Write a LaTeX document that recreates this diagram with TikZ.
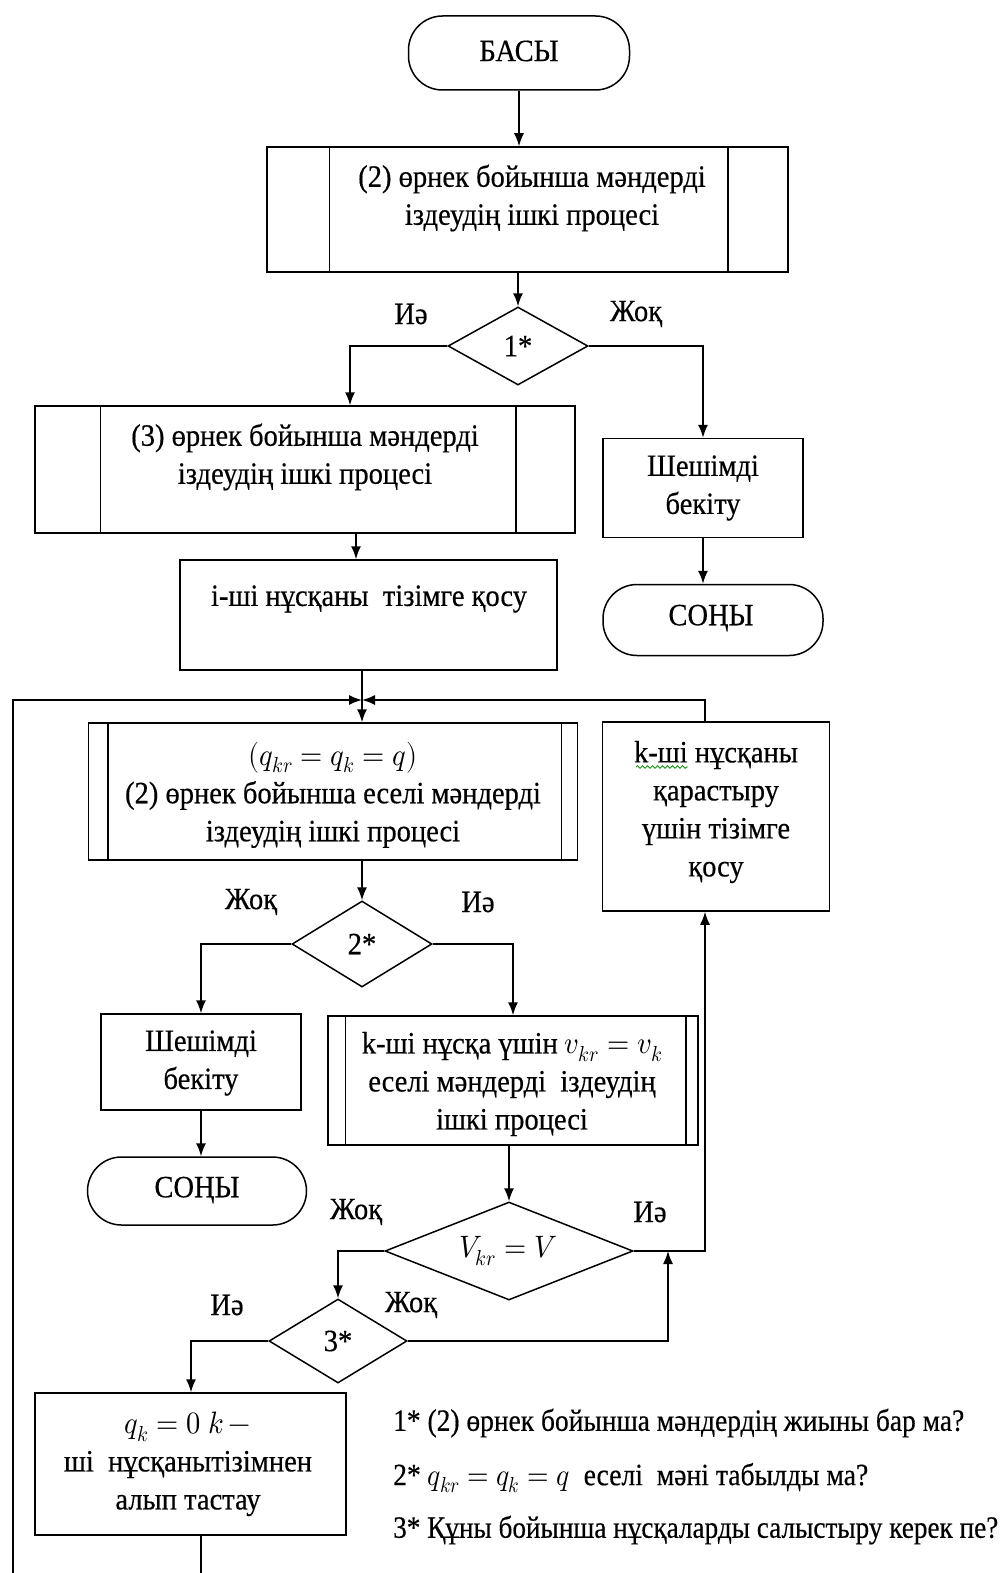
\documentclass[tikz,border=0pt]{standalone}
\usepackage{unicode-math}
\usepackage{graphicx}
\setmainfont{Liberation Serif}[FakeBold=0.45]
\usetikzlibrary{arrows.meta,shapes.geometric,decorations.pathmorphing}

\tikzset{
  every node/.style={font=\fontsize{31}{38}\selectfont},
  blk/.style={draw, line width=1.5pt, rectangle, inner sep=0pt},
  term/.style={blk, rounded corners=34pt},
  dec/.style={draw, line width=1.5pt, diamond, inner sep=0pt},
  txt/.style={align=center, inner sep=0pt},
  lbl/.style={inner sep=0pt},
  ln/.style={line width=1.5pt},
  arr/.style={line width=1.5pt, -{Latex[length=13pt,width=10pt]}},
}
% horizontally condensed lettering
\newcommand{\cnd}[1]{\scalebox{0.92}[1]{#1}}

\begin{document}
\begin{tikzpicture}[x=1pt,y=-1pt]
\useasboundingbox (0,0) rectangle (1003,1573);

% helper x positions of vertical connectors
\coordinate (ya) at (350,0);
\coordinate (c2) at (356,0);
\coordinate (m)  at (362,700);
\coordinate (kx) at (705,0);
\coordinate (c3) at (668,0);
\coordinate (c6) at (191,0);
\coordinate (bot) at (201,1573);
\coordinate (lb) at (13,1573);

% ---------- boxes ----------
\node[term, minimum width=221pt, minimum height=74pt] (start) at (519,53) {};
\node[blk, minimum width=521pt, minimum height=125pt] (sub1) at (527.5,209.5) {};
\node[dec, minimum width=140pt, minimum height=78pt] (dia1) at (518,346) {};
\node[blk, minimum width=540pt, minimum height=127pt] (sub2) at (305,469.5) {};
\node[blk, minimum width=200pt, minimum height=99pt] (dec1) at (703,488) {};
\node[term, minimum width=220pt, minimum height=71pt] (end1) at (713,620) {};
\node[blk, minimum width=377pt, minimum height=110pt] (box3) at (368.5,615) {};
\node[blk, minimum width=489pt, minimum height=137pt] (sub4) at (333,791.5) {};
\node[blk, minimum width=227pt, minimum height=189pt] (kbox) at (716,816.5) {};
\node[dec, minimum width=140pt, minimum height=86pt] (dia2) at (362,944) {};
\node[blk, minimum width=200pt, minimum height=96pt] (dec2) at (201,1062) {};
\node[term, minimum width=219pt, minimum height=68pt] (end2) at (197,1191) {};
\node[blk, minimum width=370pt, minimum height=129pt] (sub5) at (513,1080.5) {};
\node[dec, minimum width=248pt, minimum height=98pt] (diaV) at (509,1251) {};
\node[dec, minimum width=138pt, minimum height=84pt] (dia3) at (338,1341) {};
\node[blk, minimum width=311pt, minimum height=142pt] (box6) at (190.5,1464) {};

% inner side bars of the predefined-process blocks
\foreach \n/\a/\b in {sub1/63/61, sub2/66/60, sub4/20/17, sub5/18/13}{
  \draw[ln] ([xshift=\a pt]\n.north west) -- ([xshift=\a pt]\n.south west);
  \draw[ln] ([xshift=-\b pt]\n.north east) -- ([xshift=-\b pt]\n.south east);
}

% ---------- texts ----------
\node[txt] (tstart) at (519,51) {\cnd{БАСЫ}};
\node[txt] (t1) at (532,198) {\cnd{(2) өрнек бойынша мәндерді}\\\cnd{іздеудің ішкі процесі}};
\node[txt] (td1) at (dia1) {\cnd{1*}};
\node[txt] (t2) at (305,457) {\cnd{(3) өрнек бойынша мәндерді}\\\cnd{іздеудің ішкі процесі}};
\node[txt] (tdec1) at (703,488) {\cnd{Шешімді}\\\cnd{бекіту}};
\node[txt] (tend1) at (711,618) {\cnd{СОҢЫ}};
\node[txt] (t3) at (369,599) {\cnd{і-ші нұсқаны\ \ тізімге қосу}};
\node[txt] (t4) at (333,795) {\cnd{$(q_{kr} = q_k = q)$}\\\cnd{(2) өрнек бойынша еселі мәндерді}\\\cnd{іздеудің ішкі процесі}};
\node[txt] (tk) at (716,812) {\cnd{k-ші нұсқаны}\\\cnd{қарастыру}\\\cnd{үшін тізімге}\\\cnd{қосу}};
\node[txt] (td2) at (dia2) {\cnd{2*}};
\node[txt] (tdec2) at (201,1063) {\cnd{Шешімді}\\\cnd{бекіту}};
\node[txt] (tend2) at (197,1190) {\cnd{СОҢЫ}};
\node[txt] (t5) at (512,1084) {\cnd{k-ші нұсқа үшін $v_{kr} = v_k$}\\\cnd{еселі мәндерді\ \ іздеудің}\\\cnd{ішкі процесі}};
\node[txt] (tdV) at (508,1251) {\cnd{$V_{kr} = V$}};
\node[txt] (td3) at (dia3) {\cnd{3*}};
\node[txt] (t6) at (188,1464) {\cnd{$q_k = 0\;k\,-$}\\\cnd{ші\ \ нұсқанытізімнен}\\\cnd{алып тастау}};

% spell-check squiggle under "k-ші"
\draw[green!55!black, line width=0.8pt, decorate,
      decoration={snake, amplitude=1.3pt, segment length=5pt}]
  (636,767) -- (688,767);

% ---------- branch labels ----------
\node[lbl] (l1y) at (411,314) {\cnd{Иә}};
\node[lbl] (l1n) at (636,314) {\cnd{Жоқ}};
\node[lbl] (l2n) at (251,902) {\cnd{Жоқ}};
\node[lbl] (l2y) at (478,902) {\cnd{Иә}};
\node[lbl] (lVn) at (356,1212) {\cnd{Жоқ}};
\node[lbl] (lVy) at (650,1212) {\cnd{Иә}};
\node[lbl] (l3y) at (227,1305) {\cnd{Иә}};
\node[lbl] (l3n) at (411,1305) {\cnd{Жоқ}};

% ---------- footnotes ----------
\node[lbl, anchor=west] (f1) at (393,1423)
  {\resizebox{571pt}{\height}{1* (2) өрнек бойынша мәндердің жиыны бар ма?}};
\node[lbl, anchor=west] (f2) at (393,1478)
  {\resizebox{475pt}{\height}{2* $q_{kr} = q_k = q$\ \ еселі\ \ мәні табылды ма?}};
\node[lbl, anchor=west] (f3) at (393,1530)
  {\resizebox{605pt}{\height}{3* Құны бойынша нұсқаларды салыстыру керек пе?}};

% ---------- connectors ----------
\draw[arr] (start.south) -- (start.south |- sub1.north);
\draw[arr] (dia1 |- sub1.south) -- (dia1.north);
\draw[arr] (dia1.west) -| (ya |- sub2.north);
\draw[arr] (dia1.east) -| (dec1.north);
\draw[arr] (dec1.south) -- (dec1.south |- end1.north);
\draw[arr] (c2 |- sub2.south) -- (c2 |- box3.north);
\draw[arr] (m |- box3.south) -- (m |- sub4.north);
\draw[arr] (lb) |- (m);
\draw[arr] (kx |- kbox.north) |- (m);
\draw[arr] (m |- sub4.south) -- (dia2.north);
\draw[arr] (dia2.west) -| (dec2.north);
\draw[arr] (dia2.east) -| (sub5.north);
\draw[arr] (dec2.south) -- (dec2.south |- end2.north);
\draw[arr] (diaV |- sub5.south) -- (diaV.north);
\draw[arr] (diaV.east) -- (kx |- diaV.east) -- (kx |- kbox.south);
\draw[arr] (diaV.west) -| (dia3.north);
\draw[arr] (dia3.east) -| (c3 |- diaV.east);
\draw[arr] (dia3.west) -| (c6 |- box6.north);
\draw[ln] (bot |- box6.south) -- (bot);
\end{tikzpicture}
\end{document}
